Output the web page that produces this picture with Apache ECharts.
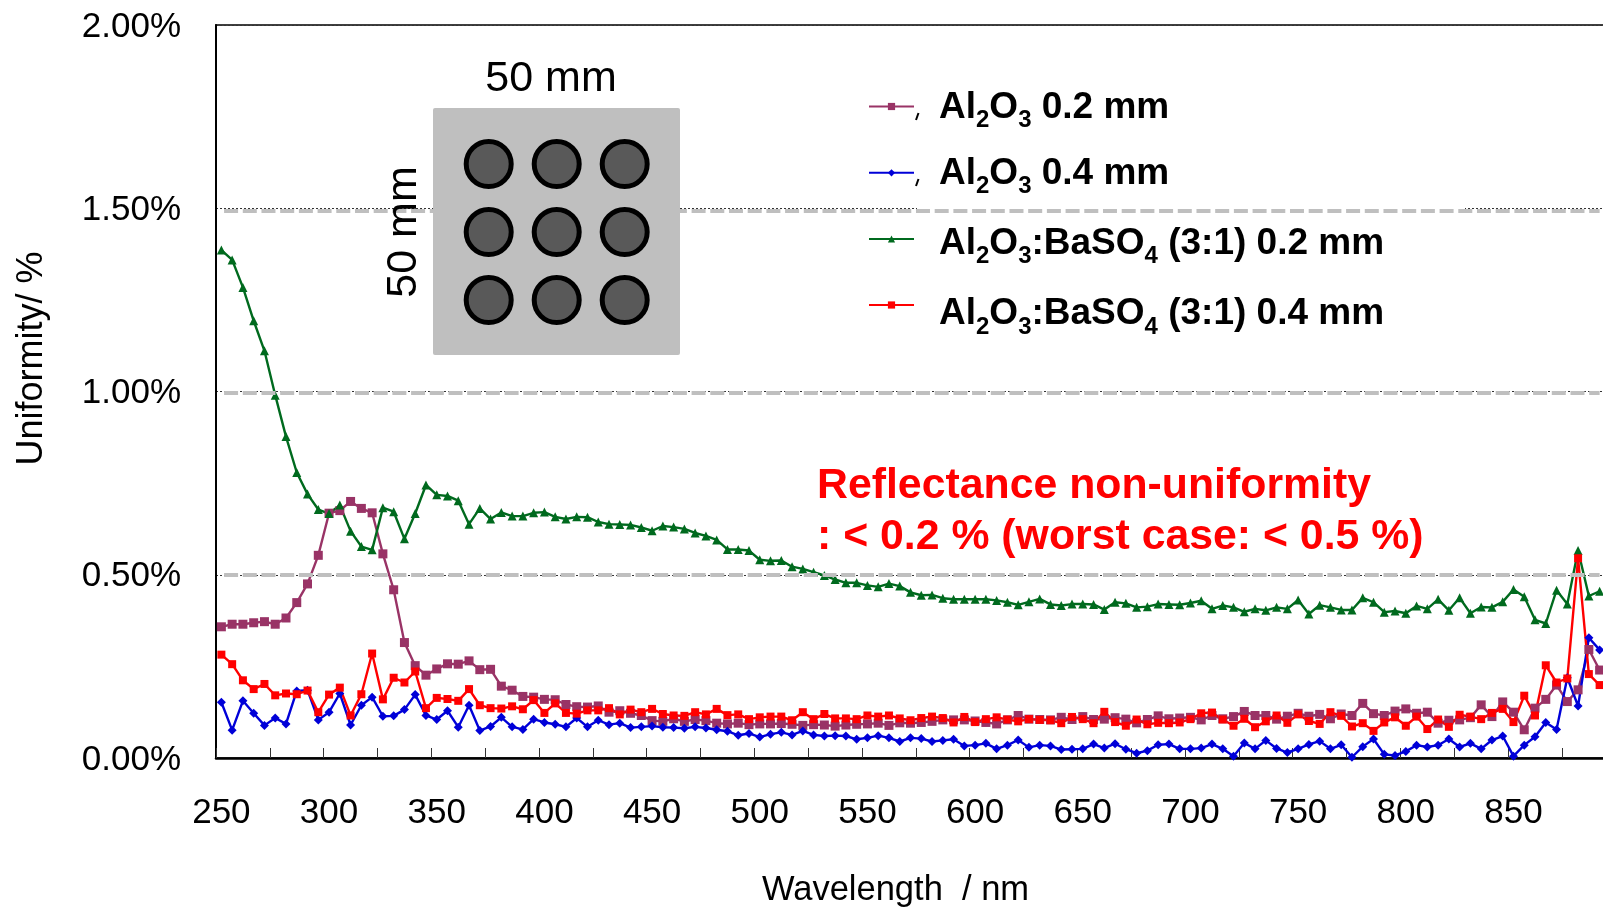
<!DOCTYPE html>
<html><head><meta charset="utf-8">
<style>html,body{margin:0;padding:0;background:#fff}#c{width:1603px;height:908px}</style>
<script src="https://cdn.jsdelivr.net/npm/echarts@6/dist/echarts.min.js"></script>
</head><body><div id="c"></div>
<script>
const wavelengths = [250,255,260,265,270,275,280,285,290,295,300,305,310,315,320,325,330,335,340,345,350,355,360,365,370,375,380,385,390,395,400,405,410,415,420,425,430,435,440,445,450,455,460,465,470,475,480,485,490,495,500,505,510,515,520,525,530,535,540,545,550,555,560,565,570,575,580,585,590,595,600,605,610,615,620,625,630,635,640,645,650,655,660,665,670,675,680,685,690,695,700,705,710,715,720,725,730,735,740,745,750,755,760,765,770,775,780,785,790,795,800,805,810,815,820,825,830,835,840,845,850,855,860,865,870,875,880,885,890];
const alumina02 = [.358,.365,.365,.369,.372,.365,.382,.424,.475,.553,
.668,.675,.70,.681,.669,.557,.459,.315,.252,.226,
.243,.257,.256,.265,.241,.242,.196,.185,.168,.166,
.160,.159,.146,.140,.139,.142,.125,.129,.122,.116,
.102,.10,.107,.10,.105,.102,.095,.093,.095,.091,
.093,.093,.094,.092,.089,.091,.09,.087,.09,.092,
.093,.095,.089,.096,.095,.097,.10,.104,.104,.104,
.101,.097,.093,.104,.116,.106,.105,.104,.111,.105,
.113,.105,.106,.11,.106,.096,.105,.115,.107,.109,
.111,.104,.116,.107,.113,.127,.116,.116,.106,.114,
.122,.114,.119,.107,.12,.116,.149,.121,.116,.128,
.134,.122,.125,.095,.103,.104,.11,.145,.113,.153,
.125,.077,.136,.16,.199,.154,.186,.296,.24];
const alumina04 = [.152,.076,.156,.122,.089,.109,.093,.183,.185,.104,
.125,.176,.09,.144,.166,.114,.115,.132,.173,.116,
.105,.129,.084,.144,.075,.086,.111,.085,.078,.106,
.097,.092,.085,.109,.085,.103,.091,.095,.083,.085,
.087,.084,.083,.081,.085,.082,.077,.073,.062,.067,
.057,.065,.07,.063,.074,.063,.06,.061,.06,.051,
.055,.061,.055,.045,.055,.053,.045,.048,.051,.033,
.035,.04,.025,.035,.049,.029,.035,.033,.023,.024,
.025,.038,.027,.039,.024,.013,.02,.036,.038,.025,
.025,.027,.038,.025,.005,.041,.025,.048,.026,.015,
.025,.037,.046,.025,.036,.002,.031,.052,.01,.007,
.018,.035,.03,.035,.052,.03,.04,.025,.049,.06,
.005,.035,.058,.097,.078,.219,.142,.328,.295];
const blend02 = [1.386,1.359,1.284,1.193,1.111,.990,.877,.779,.720,.678,
.667,.69,.619,.577,.568,.683,.672,.598,.667,.745,
.718,.715,.702,.638,.681,.652,.670,.660,.660,.669,
.671,.658,.652,.658,.657,.644,.638,.637,.636,.629,
.62,.633,.630,.625,.614,.606,.595,.569,.569,.566,
.541,.538,.539,.522,.516,.507,.498,.487,.478,.478,
.471,.467,.476,.469,.452,.444,.445,.436,.433,.433,
.433,.433,.430,.425,.418,.426,.434,.419,.416,.42,
.42,.419,.405,.425,.422,.411,.413,.42,.419,.418,
.423,.429,.407,.416,.411,.399,.407,.403,.411,.407,
.431,.393,.417,.411,.404,.404,.437,.425,.398,.401,
.395,.415,.407,.433,.403,.437,.395,.412,.411,.426,
.46,.44,.377,.367,.458,.42,.566,.442,.455];
const blend04 = [.282,.256,.212,.188,.202,.171,.176,.174,.184,.125,
.173,.192,.116,.174,.285,.160,.219,.206,.236,.136,
.164,.161,.156,.188,.144,.136,.135,.141,.133,.158,
.123,.149,.123,.121,.13,.13,.136,.119,.132,.125,
.134,.12,.116,.115,.125,.119,.134,.117,.119,.106,
.111,.113,.113,.103,.125,.106,.12,.108,.108,.106,
.116,.113,.116,.108,.103,.109,.113,.109,.097,.112,
.098,.106,.111,.105,.10,.106,.104,.103,.095,.112,
.106,.095,.126,.098,.088,.105,.092,.096,.095,.097,
.106,.122,.124,.105,.088,.107,.084,.10,.116,.096,
.119,.101,.093,.125,.115,.086,.095,.074,.097,.111,
.088,.113,.079,.105,.085,.118,.113,.106,.123,.134,
.098,.17,.116,.253,.206,.217,.545,.229,.199];
const seriesNames = ['Al2O3 0.2 mm','Al2O3 0.4 mm','Al2O3:BaSO4 (3:1) 0.2 mm','Al2O3:BaSO4 (3:1) 0.4 mm'];
const referenceLevels = [1.492,0.996,0.5];

const font = '"Liberation Sans", Arial, sans-serif';
const chart = echarts.init(document.getElementById('c'), null, {renderer:'canvas'});
const mk = (name,data,color,symbol,size) => ({
  name, type:'line', data, symbol, symbolSize:size, showSymbol:true, showAllSymbol:true,
  animation:false, clip:false, lineStyle:{color,width:2.4}, itemStyle:{color}, emphasis:{disabled:true}
});
const s = [
  mk(seriesNames[0],alumina02,'#993366','rect',9),
  mk(seriesNames[1],alumina04,'#0000D8','diamond',9),
  mk(seriesNames[2],blend02,'#006A1E','triangle',9),
  mk(seriesNames[3],blend04,'#FF0000','rect',8)
];
s[3].markLine = {
  silent:true, symbol:'none', animation:false, label:{show:false},
  lineStyle:{color:'#BFBFBF',width:4,type:[14,4.7],dashOffset:16},
  data:referenceLevels.map(v=>[{coord:['250',v]},{coord:['890',v]}])
};
const legendFmt = n => {
  const t = n.replace('Al2O3','Al{s|2}O{s|3}').replace('BaSO4','BaSO{s|4}');
  return t.split(/(\{s\|\d\})/).map(p=>p.startsWith('{s|')?p:(p?'{m|'+p+'}':'')).join('');
};
// one legend block per row: the rows and their text offsets are unequal in the reference
const mkLegend = (name,lineY,padTop,padBottom) => ({
  show:true,orient:'vertical',left:868,top:lineY-(50+padTop+padBottom)/2,padding:0,
  itemWidth:45,itemHeight:9,selectedMode:false,data:[name],formatter:legendFmt,
  textStyle:{fontFamily:font,fontSize:37,fontWeight:'bold',color:'#000',lineHeight:50,padding:[padTop,0,padBottom,20],
    rich:{m:{fontFamily:font,fontSize:37,fontWeight:'bold',color:'#000',lineHeight:50,verticalAlign:'middle'},
          s:{fontFamily:font,fontSize:24,fontWeight:'bold',color:'#000',lineHeight:24,verticalAlign:'bottom'}}}
});
const circles = [];
[488.7,556.7,624.7].forEach(x=>[164,232,300].forEach(y=>circles.push({
  type:'circle', z:101, shape:{cx:x,cy:y,r:22.5}, style:{fill:'#595959',stroke:'#000',lineWidth:5}
})));
chart.setOption({
  backgroundColor:'#fff', animation:false,
  grid:{left:216,top:25,width:1389,height:733,outerBoundsMode:'none',show:true,borderColor:'#000',borderWidth:1.5,backgroundColor:'transparent'},
  xAxis:{type:'category',data:wavelengths.map(String),boundaryGap:true,
    name:'Wavelength  / nm',nameLocation:'middle',nameGap:115,
    nameTextStyle:{fontFamily:font,fontSize:34.5,color:'#000',padding:[0,30,0,0],verticalAlign:'top'},
    axisLine:{lineStyle:{color:'#000',width:2.5}},
    axisTick:{show:true,inside:true,length:10,interval:4,alignWithLabel:false,lineStyle:{color:'#333',width:1}},
    axisLabel:{interval:(i)=>i%10===0,margin:38,fontFamily:font,fontSize:35,color:'#000'},
    splitLine:{show:false}},
  yAxis:{type:'value',min:0,max:2,interval:0.5,
    name:'Uniformity/ %',nameLocation:'middle',nameGap:166,
    nameTextStyle:{fontFamily:font,fontSize:36,color:'#000',padding:[0,0,0,66]},
    axisLine:{show:true,lineStyle:{color:'#000',width:2}},
    axisTick:{show:false},
    axisLabel:{margin:35,fontFamily:font,fontSize:35,color:'#000',verticalAlign:'top',lineHeight:4,formatter:v=>v.toFixed(2)+'%'},
    splitLine:{show:true,lineStyle:{color:'#333',width:1,type:[2,2]}}},
  legend:[mkLegend(seriesNames[0],106.5,2,0),mkLegend(seriesNames[1],172.8,2,0),mkLegend(seriesNames[2],239,9,0),mkLegend(seriesNames[3],305,18,0)],
  graphic:[
    {type:'rect',z:1,shape:{x:917,y:205,width:548,height:6},style:{fill:'#fff'}},
    {type:'rect',z:100,shape:{x:433,y:108,width:247,height:247,r:2},style:{fill:'#BFBFBF'}},
    ...circles,
    {type:'line',z:100,shape:{x1:916,y1:120,x2:918.5,y2:113},style:{stroke:'#000',lineWidth:2}},
    {type:'line',z:100,shape:{x1:916,y1:186,x2:918.5,y2:179},style:{stroke:'#000',lineWidth:2}},
    {type:'text',z:101,x:551,y:79,style:{text:'50 mm',font:'43px '+font,fill:'#000',textAlign:'center',textVerticalAlign:'middle'}},
    {type:'text',z:101,x:404,y:232,rotation:Math.PI/2,style:{text:'50 mm',font:'43px '+font,fill:'#000',textAlign:'center',textVerticalAlign:'middle'}},
    {type:'text',z:101,x:817,y:486,style:{text:'Reflectance non-uniformity',font:'bold 42.8px '+font,fill:'#FF0000',textVerticalAlign:'middle'}},
    {type:'text',z:101,x:817,y:537,style:{text:': < 0.2 % (worst case: < 0.5 %)',font:'bold 42.8px '+font,fill:'#FF0000',textVerticalAlign:'middle'}}
  ],
  series:s
});
</script></body></html>
